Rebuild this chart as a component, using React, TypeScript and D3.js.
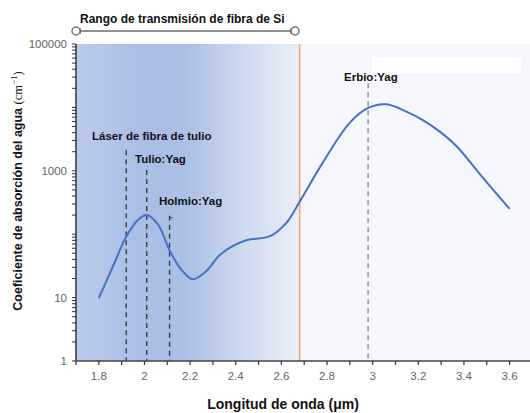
import React from 'react';
import * as d3 from 'd3';

// absorption curve of water
const wavelength = [
  1.8, 1.86, 1.92, 1.97, 2.01, 2.06, 2.11, 2.16, 2.21, 2.27, 2.33, 2.39, 2.45, 2.55, 2.62, 2.68,
  2.78, 2.9, 2.98, 3.06, 3.15, 3.22, 3.3, 3.37, 3.48, 3.6,
];
const absorption = [
  9.8, 30, 91, 166, 200, 141, 56, 28, 19.5, 26, 47, 66, 81, 93, 148, 325,
  1320, 5750, 9800, 11200, 8500, 6300, 4000, 2400, 800, 250,
];

const xTicks = [1.8, 2, 2.2, 2.4, 2.6, 2.8, 3, 3.2, 3.4, 3.6];
const yTickLabels = [1, 10, 1000, 100000];

// laser lines
const laserNames = ['Láser de fibra de tulio', 'Tulio:Yag', 'Holmio:Yag', 'Erbio:Yag'];
const laserWl = [1.92, 2.01, 2.11, 2.98];
const laserTop = [2100, 1030, 195, 24000];

const siRange = [1.7, 2.66];
const cutoff = 2.68;

const W = 530;
const H = 413;

const App = () => {
  const x = d3.scaleLinear().domain([1.7, 3.7]).range([76, 532.4]);
  const y = d3.scaleLog().domain([1, 100000]).range([361, 44]);
  const top = y(100000);
  const bottom = y(1);

  const line = d3
    .line<number>()
    .x((d, i) => x(wavelength[i]))
    .y((d) => y(d))
    .curve(d3.curveCatmullRom.alpha(0.5));

  const minorTicksX = d3.range(17, 38).map((d) => d / 10);
  const minorTicksY: number[] = [];
  for (let e = 0; e < 5; e++) {
    for (let m = 1; m < 10; m++) minorTicksY.push(m * Math.pow(10, e));
  }
  minorTicksY.push(100000);

  const tickFont = '"Liberation Sans Narrow", "Arial Narrow", sans-serif';
  const boldFont = '"Liberation Sans", Arial, sans-serif';

  return (
    <svg width={W} height={H} style={{ position: 'absolute', left: 0, top: 0, background: '#fff' }}>
      <defs>
        <linearGradient id="siGrad" x1="0" x2="1" y1="0" y2="0">
          <stop offset="0" stopColor="#bccbeb" />
          <stop offset="0.3" stopColor="#a9bde5" />
          <stop offset="0.5" stopColor="#acc0e6" />
          <stop offset="0.75" stopColor="#cfdaf0" />
          <stop offset="1" stopColor="#eaeff8" />
        </linearGradient>
      </defs>

      {/* background */}
      <rect x={x(cutoff)} y={top} width={530 - x(cutoff)} height={bottom - top} fill="#f5f7fc" />
      <rect x={x(1.7)} y={top} width={x(cutoff) - x(1.7)} height={bottom - top} fill="url(#siGrad)" />
      <rect x={372} y={57} width={149} height={16} fill="#ffffff" />

      {/* orange cutoff */}
      <line x1={x(cutoff)} x2={x(cutoff)} y1={top} y2={bottom} stroke="#f0a070" strokeWidth={1.5} />

      {/* laser lines */}
      {laserWl.map((w, i) => (
        <line
          key={'l' + i}
          x1={x(w)}
          x2={x(w)}
          y1={y(laserTop[i])}
          y2={bottom}
          stroke={i === 3 ? '#888' : '#333'}
          strokeWidth={1.3}
          strokeDasharray="5,4"
        />
      ))}
      <line x1={x(laserWl[2])} x2={x(laserWl[2]) + 3} y1={y(laserTop[2]) + 2} y2={y(laserTop[2]) + 2} stroke="#333" strokeWidth={1} />

      {/* curve */}
      <path d={line(absorption) || ''} fill="none" stroke="#4472c4" strokeWidth={2} />

      {/* laser labels */}
      <g fontFamily={boldFont} fontWeight="bold" fontSize={11.5} fill="#111">
        <text x={92} y={140}>{laserNames[0]}</text>
        <text x={135} y={163}>{laserNames[1]}</text>
        <text x={159} y={205}>{laserNames[2]}</text>
        <text x={344} y={81}>{laserNames[3]}</text>
      </g>

      {/* y axis */}
      <line x1={76} x2={76} y1={top} y2={bottom} stroke="#333" strokeWidth={1.5} />
      {minorTicksY.map((t, i) => (
        <line key={'yt' + i} x1={72} x2={76} y1={y(t)} y2={y(t)} stroke="#333" strokeWidth={1} />
      ))}
      {yTickLabels.map((t) => (
        <text key={'yl' + t} x={67} y={y(t) + 4} textAnchor="end" fontFamily={tickFont} fontSize={11.5} fill="#666">
          {t}
        </text>
      ))}

      {/* x axis */}
      <line x1={76} x2={530} y1={bottom} y2={bottom} stroke="#444" strokeWidth={1.5} />
      {minorTicksX.map((t, i) => (
        <line key={'xt' + i} x1={x(t)} x2={x(t)} y1={bottom} y2={bottom + 4} stroke="#333" strokeWidth={1.2} />
      ))}
      {xTicks.map((t) => (
        <text key={'xl' + t} x={x(t)} y={380} textAnchor="middle" fontFamily={tickFont} fontSize={11.5} fill="#666">
          {t}
        </text>
      ))}

      {/* axis titles */}
      <text x={283} y={409} textAnchor="middle" fontFamily={boldFont} fontWeight="bold" fontSize={14} fill="#111">
        Longitud de onda (μm)
      </text>
      <text
        transform="translate(22,191) rotate(-90)"
        textAnchor="middle"
        fontFamily={boldFont}
        fontWeight="bold"
        fontSize={12.5}
        fill="#111"
      >
        Coeficiente de absorción del agua{' '}
        <tspan fontFamily='"Liberation Serif", "Times New Roman", serif' fontWeight="normal">
          {' (cm'}
        </tspan>
        <tspan fontFamily='"Liberation Serif", serif' fontWeight="normal" fontSize={9} dy={-5}>
          −1
        </tspan>
        <tspan fontFamily='"Liberation Serif", serif' fontWeight="normal" dy={5}>
          )
        </tspan>
      </text>

      {/* Si fibre transmission range */}
      <text x={80} y={23} fontFamily={boldFont} fontWeight="bold" fontSize={12} fill="#111">
        Rango de transmisión de fibra de Si
      </text>
      <line x1={x(siRange[0]) + 4} x2={x(siRange[1]) - 4} y1={31} y2={31} stroke="#222" strokeWidth={1} />
      <line x1={x(siRange[0]) + 4} x2={x(siRange[0]) + 4} y1={28} y2={34} stroke="#222" strokeWidth={1} />
      <line x1={x(siRange[1]) - 4} x2={x(siRange[1]) - 4} y1={28} y2={34} stroke="#222" strokeWidth={1} />
      <circle cx={x(siRange[0])} cy={31} r={4} fill="#fff" stroke="#777" strokeWidth={1.5} />
      <circle cx={x(siRange[1])} cy={31} r={4} fill="#fff" stroke="#777" strokeWidth={1.5} />
    </svg>
  );
};

export default App;
